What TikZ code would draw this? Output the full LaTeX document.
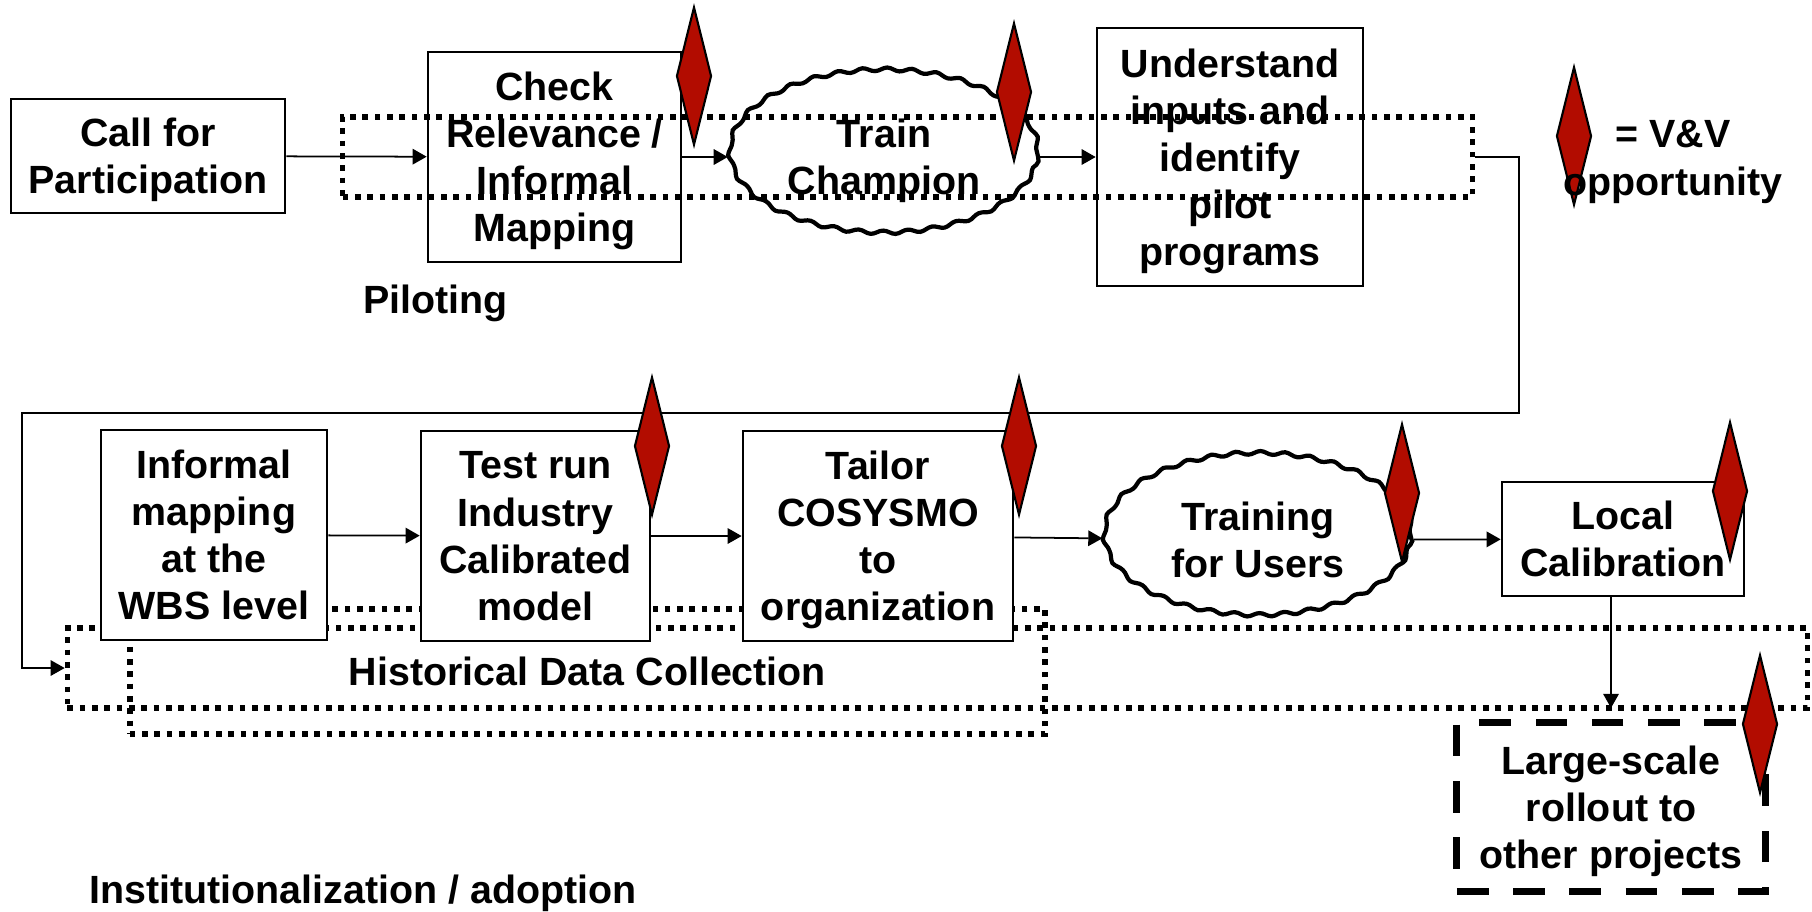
\documentclass[tikz,border=0pt]{standalone}
\usepackage{fontspec}
\setmainfont{Liberation Sans}
\usetikzlibrary{shapes.geometric,decorations.pathmorphing,arrows.meta}
\definecolor{vvred}{RGB}{178,12,0}
\tikzset{
	stagebox/.style={draw, line width=0.7pt, fill=white, inner sep=0pt, align=center, text depth=0pt},
	rolloutbox/.style={stagebox, line width=2pt, dash pattern=on 9pt off 7pt},
	wavy/.style={ellipse, draw, line width=1.2pt, fill=white, inner sep=0pt, align=center, text depth=0pt,
		decorate, decoration={snake, segment length=7pt, amplitude=0.5pt}},
	zone/.style={draw, line width=1.6pt, dash pattern=on 1.6pt off 1.9pt, inner sep=0pt},
	vv/.style={diamond, draw, fill=vvred, line width=0.6pt, inner sep=0pt,
		minimum width=0.35cm, minimum height=1.38cm},
	flow/.style={line width=0.5pt, -{Triangle[length=4pt,width=4.4pt]}}
}

\begin{document}
\begin{tikzpicture}[x=0.01cm, y=-0.01cm, font=\bfseries\fontsize{11.2}{13.4}\selectfont]
			%%%%% START %%%%%
			\useasboundingbox (0,0) rectangle (1812,911);
			
			% historical data zones (under the boxes)
			\node[zone, minimum width=17.39cm, minimum height=0.8cm] (hist) at (937.5,668) {};
			\node[zone, minimum width=9.15cm, minimum height=1.25cm] (hist2) at (587.5,671.5) {};
			\node (histlabel) at (hist2.center) {Historical Data Collection};
			
			% institutionalization row
			\node[stagebox, minimum width=2.26cm, minimum height=2.1cm] (informal) at (214,535) {Informal\\mapping\\at the\\WBS level};
			\node[stagebox, minimum width=2.29cm, minimum height=2.1cm] (testrun) at (535.5,536) {Test run\\Industry\\Calibrated\\model};
			\node[stagebox, minimum width=2.7cm, minimum height=2.1cm] (tailor) at (878,536) {Tailor\\COSYSMO\\to\\organization};
			\node[wavy, minimum width=3.07cm, minimum height=1.62cm] (training) at (1258,540) {Training\\for Users};
			\node[stagebox, minimum width=2.42cm, minimum height=1.14cm] (local) at (1623,539) {Local\\Calibration};
			\node[rolloutbox, minimum width=3.08cm, minimum height=1.69cm] (rollout) at (1611,807) {Large-scale\\rollout to\\other projects};
			
			% piloting row
			\node[stagebox, minimum width=2.74cm, minimum height=1.14cm] (call) at (148,156) {Call for\\Participation};
			\node[stagebox, minimum width=2.53cm, minimum height=2.1cm] (check) at (554.5,157) {Check\\Relevance /\\Informal\\Mapping};
			\node[wavy, minimum width=3.08cm, minimum height=1.63cm] (train) at (884,157) {Train\\Champion};
			\node[stagebox, minimum width=2.66cm, minimum height=2.58cm] (understand) at (1230,157) {Understand\\inputs and\\identify\\pilot\\programs};
			\node[zone, minimum width=11.29cm, minimum height=0.8cm] (pilot) at (907.5,157) {};
			
			\node[anchor=west] (piloting) at (351,303) {Piloting};
			\node[anchor=west] (adoption) at (77,893) {Institutionalization / adoption};
			
			% flow
			\draw[flow] (call) -- (check);
			\draw[flow] (check) -- (train);
			\draw[flow] (train) -- (understand);
			\coordinate (turnA) at (1519,413);
			\coordinate (turnB) at (22,413);
			\draw[flow] (pilot.east) -| (turnA) -- (turnB) |- (hist.west);
			\draw[flow] (informal) -- (testrun);
			\draw[flow] (testrun) -- (tailor);
			\draw[flow] (tailor) -- (training);
			\draw[flow] (training) -- (local);
			\draw[flow] (rollout.north |- local.south) -- ([yshift=0.11cm]rollout.north);
			
			% V&V opportunities
			\node[vv] (vv1) at (694,76) {};
			\node[vv] (vv2) at (1014,92) {};
			\node[vv] (vv3) at (652,446) {};
			\node[vv] (vv4) at (1019,446) {};
			\node[vv] (vv5) at (1402,493) {};
			\node[vv] (vv6) at (1730,491) {};
			\node[vv] (vv7) at (1760,724) {};
			
			% legend
			\node[vv] (vvkey) at (1574,136) {};
			\node[align=center] (vvtext) at (1673,162) {= V\&V\\opportunity};
			%%%%% END %%%%%
\end{tikzpicture}
\end{document}
